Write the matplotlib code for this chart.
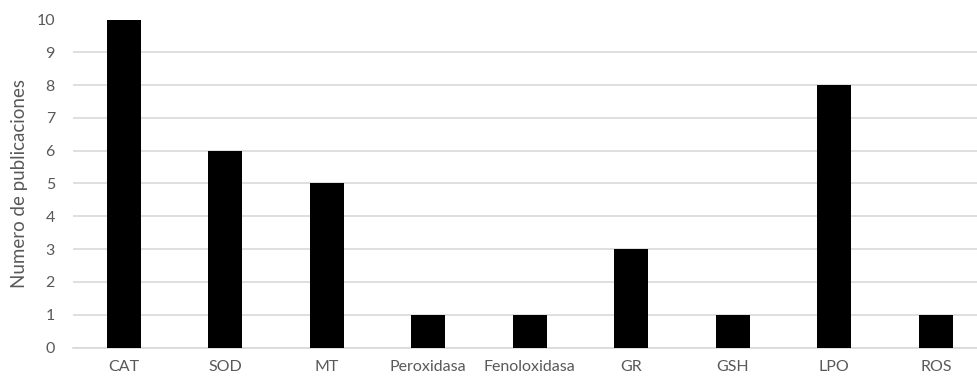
from matplotlib import pyplot as plt

categories = ["CAT", "SOD", "MT", "Peroxidasa", "Fenoloxidasa", "GR", "GSH", "LPO", "ROS"]
publicaciones = [10, 6, 5, 1, 1, 3, 1, 8, 1]

plt.rcParams['font.family'] = ['Lato', 'DejaVu Sans']

text_color = '#595959'
grid_color = '#d9d9d9'

fig = plt.figure(figsize=(9.77, 3.79), dpi=100)
# axes runs a little past the right edge, like the cropped original
ax = fig.add_axes([73 / 977, 31.5 / 379, 913.5 / 977, 328 / 379])

xs = list(range(len(categories)))
ax.bar(xs, publicaciones, width=0.335, color='black', zorder=3)

ax.set_xlim(-0.5, len(categories) - 0.5)
ax.set_ylim(0, 10)
ax.set_yticks(range(0, 11))
ax.set_xticks(xs)
ax.set_xticklabels(categories)

ax.grid(axis='y', color=grid_color, linewidth=1.2, zorder=0)
for side in ['top', 'right', 'left']:
    ax.spines[side].set_visible(False)
ax.spines['bottom'].set_color(grid_color)
ax.spines['bottom'].set_linewidth(1.2)

ax.tick_params(axis='both', length=0, colors=text_color, labelsize=11.5)
ax.tick_params(axis='y', pad=13)
ax.tick_params(axis='x', pad=9)
ax.set_ylabel("Numero de publicaciones", color=text_color, fontsize=13.5, labelpad=6)

plt.savefig("out.png", dpi=100)
